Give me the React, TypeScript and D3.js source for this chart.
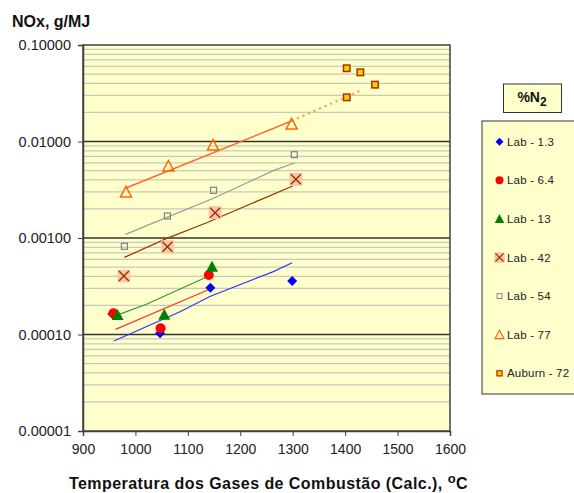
import React, { useEffect, useRef } from 'react';
import * as d3 from 'd3';

// measured points (temperature °C, NOx g/MJ)
const lab1_3Temp = [956, 1047, 1143, 1299];
const lab1_3NOx = [0.000163, 0.000103, 0.000305, 0.000358];
const lab6_4Temp = [958, 1048, 1140];
const lab6_4NOx = [0.000166, 0.000116, 0.000414];
const lab13Temp = [966, 1055, 1146];
const lab13NOx = [0.000159, 0.00016, 0.000505];
const lab42Temp = [978, 1061, 1152, 1306];
const lab42NOx = [0.000404, 0.00081, 0.00183, 0.00406];
const lab54Temp = [979, 1061, 1149, 1303];
const lab54NOx = [0.00082, 0.00169, 0.00312, 0.0073];
const lab77Temp = [982, 1063, 1148, 1298];
const lab77NOx = [0.003, 0.00557, 0.0092, 0.0152];
const auburnTemp = [1403, 1429, 1457, 1403];
const auburnNOx = [0.0574, 0.0521, 0.0388, 0.0287];

// trend lines
const fit1_3: [number, number][] = [[959, 0.0000857], [1085, 0.000172], [1142, 0.000248], [1263, 0.000448], [1299, 0.000555]];
const fit6_4: [number, number][] = [[962, 0.000113], [1138, 0.000289]];
const fit13: [number, number][] = [[965, 0.000159], [1021, 0.000206], [1140, 0.000404]];
const fit42: [number, number][] = [[979, 0.00063], [1060, 0.00099], [1136, 0.00144], [1300, 0.00346]];
const fit54: [number, number][] = [[981, 0.00109], [1149, 0.00258], [1263, 0.00499], [1304, 0.00603]];
const fit77: [number, number][] = [[982, 0.0033], [1298, 0.0163]];
const fit77Ext: [number, number][] = [[1298, 0.0163], [1432, 0.0342]];

const xTicks = [900, 1000, 1100, 1200, 1300, 1400, 1500, 1600];
const yTicks = [0.00001, 0.0001, 0.001, 0.01, 0.1];
const legendLabels = ['Lab - 1.3', 'Lab - 6.4', 'Lab - 13', 'Lab - 42', 'Lab - 54', 'Lab - 77', 'Auburn - 72'];

const W = 574;
const H = 493;
const FONT = 'Arial, "Liberation Sans", sans-serif';

type MarkerKind = 'diamond' | 'circle' | 'triangle' | 'xbox' | 'square' | 'otriangle' | 'auburn';
const kinds: MarkerKind[] = ['diamond', 'circle', 'triangle', 'xbox', 'square', 'otriangle', 'auburn'];

function drawMarker(g: d3.Selection<SVGGElement, unknown, null, undefined>, kind: MarkerKind, x: number, y: number, s = 1) {
  const m = g.append('g').attr('transform', `translate(${x},${y}) scale(${s})`);
  if (kind === 'diamond') {
    m.append('path').attr('d', 'M0,-5L5,0L0,5L-5,0Z').attr('fill', '#0000FF');
  } else if (kind === 'circle') {
    m.append('circle').attr('r', 5).attr('fill', '#FF0000');
  } else if (kind === 'triangle') {
    m.append('path').attr('d', 'M0,-6L6,5L-6,5Z').attr('fill', '#008000');
  } else if (kind === 'xbox') {
    m.append('rect').attr('x', -6.5).attr('y', -6.5).attr('width', 13).attr('height', 13).attr('fill', '#F9C6A6');
    m.append('path').attr('d', 'M-5,-5L5,5M5,-5L-5,5').attr('stroke', '#993300').attr('stroke-width', 1.4).attr('fill', 'none');
  } else if (kind === 'square') {
    m.append('rect').attr('x', -3).attr('y', -3).attr('width', 6).attr('height', 6)
      .attr('fill', 'none').attr('stroke', '#808080').attr('stroke-width', 1.2);
  } else if (kind === 'otriangle') {
    m.append('path').attr('d', 'M0,-5.5L5.5,5L-5.5,5Z')
      .attr('fill', 'none').attr('stroke', '#FF6600').attr('stroke-width', 1.5);
  } else {
    m.append('rect').attr('x', -4.5).attr('y', -4.5).attr('width', 9).attr('height', 9).attr('fill', '#FFD9A0');
    m.append('rect').attr('x', -3.2).attr('y', -3.2).attr('width', 6.4).attr('height', 6.4)
      .attr('fill', '#FFCC00').attr('stroke', '#993300').attr('stroke-width', 1.4);
  }
}

const App: React.FC = () => {
  const svgRef = useRef<SVGSVGElement>(null);

  useEffect(() => {
    if (!svgRef.current) return;
    const svg = d3.select(svgRef.current);
    svg.selectAll('*').remove();

    const left = 83, right = 450, top = 45, bottom = 431;

    const x = d3.scaleLinear().domain([900, 1600]).range([left, right]);
    const y = d3.scaleLog().domain([0.00001, 0.1]).range([bottom, top]);

    const root = svg.append('g') as unknown as d3.Selection<SVGGElement, unknown, null, undefined>;

    // plot background
    root.append('rect').attr('x', left).attr('y', top).attr('width', right - left).attr('height', bottom - top)
      .attr('fill', '#FFFFCC');

    // minor gridlines
    const minor: number[] = [];
    for (let e = -5; e < -1; e++) {
      for (let k = 2; k <= 9; k++) minor.push(k * Math.pow(10, e));
    }
    root.selectAll('.minor').data(minor).enter().append('line')
      .attr('x1', left).attr('x2', right)
      .attr('y1', d => y(d)).attr('y2', d => y(d))
      .attr('stroke', '#C8C8C0').attr('stroke-width', 1.2);

    // major gridlines
    root.selectAll('.major').data(yTicks.slice(1, 4)).enter().append('line')
      .attr('x1', left).attr('x2', right)
      .attr('y1', d => y(d)).attr('y2', d => y(d))
      .attr('stroke', '#333333').attr('stroke-width', 1.4);

    // plot border
    root.append('rect').attr('x', left).attr('y', top).attr('width', right - left).attr('height', bottom - top)
      .attr('fill', 'none').attr('stroke', '#404040').attr('stroke-width', 1.5);

    // axes
    const xAxis = root.append('g').attr('transform', `translate(0,${bottom})`)
      .call(d3.axisBottom(x).tickValues(xTicks).tickSize(5).tickPadding(8).tickFormat(d3.format('d')));
    xAxis.select('.domain').attr('stroke', '#404040').attr('stroke-width', 1.5);
    xAxis.selectAll('line').attr('stroke', '#404040');
    xAxis.selectAll('text').style('font-family', FONT).style('font-size', '14px').attr('fill', '#222');

    const yAxis = root.append('g').attr('transform', `translate(${left},0)`)
      .call(d3.axisLeft(y).tickValues(yTicks).tickSize(5).tickPadding(7).tickFormat(d3.format('.5f')));
    yAxis.select('.domain').attr('stroke', '#404040').attr('stroke-width', 1.5);
    yAxis.selectAll('line').attr('stroke', '#404040');
    yAxis.selectAll('text').style('font-family', FONT).style('font-size', '14.5px').attr('fill', '#222');

    // trend lines
    const line = d3.line<[number, number]>().x(d => x(d[0])).y(d => y(d[1]));
    const fits: { data: [number, number][]; color: string; dash?: string; w: number }[] = [
      { data: fit1_3, color: '#3333FF', w: 1.2 },
      { data: fit6_4, color: '#FF3333', w: 1.2 },
      { data: fit13, color: '#339933', w: 1.2 },
      { data: fit42, color: '#993300', w: 1.2 },
      { data: fit54, color: '#999999', w: 1.2 },
      { data: fit77, color: '#FF6633', w: 1.5 },
      { data: fit77Ext, color: '#FF9933', w: 2.2, dash: '2,4' },
    ];
    fits.forEach(f => {
      root.append('path').attr('d', line(f.data)).attr('fill', 'none')
        .attr('stroke', f.color).attr('stroke-width', f.w)
        .attr('stroke-dasharray', f.dash || null);
    });

    // markers
    const series: [number[], number[]][] = [
      [lab1_3Temp, lab1_3NOx],
      [lab6_4Temp, lab6_4NOx],
      [lab13Temp, lab13NOx],
      [lab42Temp, lab42NOx],
      [lab54Temp, lab54NOx],
      [lab77Temp, lab77NOx],
      [auburnTemp, auburnNOx],
    ];
    series.forEach(([tx, ny], i) => {
      tx.forEach((t, j) => drawMarker(root, kinds[i], x(t), y(ny[j])));
    });

    // titles
    root.append('text').attr('x', 12).attr('y', 27).text('NOx, g/MJ')
      .style('font-family', FONT).style('font-size', '16px').style('font-weight', 'bold').attr('fill', '#111');

    const xl = root.append('text').attr('x', (left + right) / 2 + 2).attr('y', 489).attr('text-anchor', 'middle')
      .style('font-family', FONT).style('font-size', '16px').style('font-weight', 'bold')
      .style('letter-spacing', '0.45px').attr('fill', '#111');
    xl.append('tspan').text('Temperatura dos Gases de Combustão (Calc.), ');
    xl.append('tspan').attr('dy', -6).style('font-size', '13px').text('o');
    xl.append('tspan').attr('dy', 6).text('C');

    // legend title
    root.append('rect').attr('x', 503.5).attr('y', 84).attr('width', 58).attr('height', 28.5)
      .attr('fill', '#FFFFCC').attr('stroke', '#333').attr('stroke-width', 1);
    const lt = root.append('text').attr('x', 532).attr('y', 102).attr('text-anchor', 'middle')
      .style('font-family', FONT).style('font-size', '14px').style('font-weight', 'bold').attr('fill', '#111');
    lt.append('tspan').text('%N');
    lt.append('tspan').attr('dy', 4).style('font-size', '12px').text('2');

    // legend box
    root.append('rect').attr('x', 482).attr('y', 121).attr('width', 100).attr('height', 273)
      .attr('fill', '#FFFFCC').attr('stroke', '#333').attr('stroke-width', 1);
    legendLabels.forEach((lab, i) => {
      const ly = 141.7 + i * 38.6;
      drawMarker(root, kinds[i], 499.5, ly, 0.8);
      root.append('text').attr('x', 507).attr('y', ly + 4).text(lab)
        .style('font-family', FONT).style('font-size', '11.5px').style('letter-spacing', '0.2px').attr('fill', '#222');
    });
  }, []);

  return (
    <svg ref={svgRef} width={W} height={H}
      style={{ position: 'absolute', left: 0, top: 0, background: '#fff' }} />
  );
};

export default App;
